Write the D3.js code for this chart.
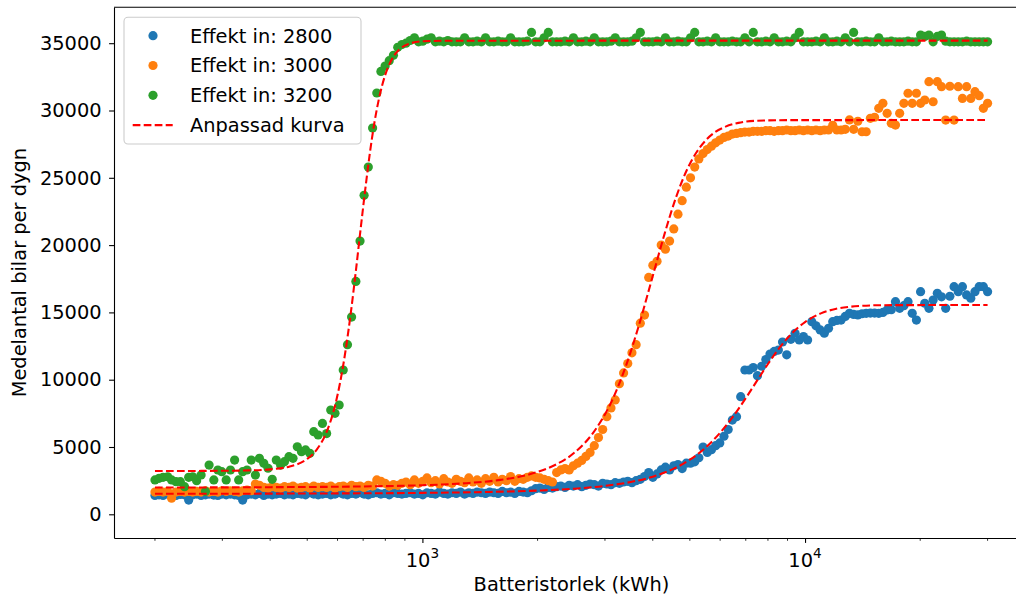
<!DOCTYPE html>
<html>
<head>
<meta charset="utf-8">
<script src="https://cdn.jsdelivr.net/npm/d3@7"></script>
<style>
  body { margin: 0; background: #fff; }
  text { font-family: "DejaVu Sans", sans-serif; fill: #000; }
</style>
</head>
<body>
<script>
// ---battery sizes (kWh), same grid for all three series---
var batteryKWh = [
200,205,210,216,221,227,233,239,245,251,
257,264,271,277,285,292,299,307,315,323,
331,339,348,357,366,375,385,395,405,415,
426,436,448,459,471,483,495,508,520,534,
548,562,576,591,606,621,637,653,670,687,
704,722,741,760,779,799,819,840,862,884,
906,929,953,977,1002,1028,1054,1081,1108,1137,
1165,1195,1226,1257,1289,1322,1356,1390,1426,1462,
1499,1537,1577,1617,1658,1700,1744,1788,1834,1881,
1928,1977,2028,2080,2133,2187,2243,2300,2359,2419,
2481,2544,2609,2675,2743,2813,2885,2959,3034,3111,
3191,3272,3356,3441,3529,3619,3711,3806,3903,4002,
4104,4209,4316,4426,4539,4655,4774,4895,5020,5148,
5279,5414,5552,5693,5839,5987,6140,6297,6457,6622,
6790,6963,7141,7323,7510,7701,7898,8099,8306,8518,
8733,8956,9184,9418,9658,9905,10157,10416,10682,10954,
11232,11519,11813,12114,12423,12740,13065,13398,13740,14090,
14449,14818,15195,15583,15980,16388,16806,17234,17674,18124,
18586,19060,19546,20045,20556,21080,21617,22169,22734,23314,
23908,24518,25143,25784,26442,27116,27807,28517,29244,30000
]

// ---Effekt in: 2800---
var cars2800 = [
1400,1450,1400,1500,1450,1400,1480,1450,1060,1450,
1500,1400,1450,1500,1430,1400,1500,1450,1500,1450,
1400,1060,1450,1500,1450,1550,1400,1500,1450,1500,
1550,1450,1500,1450,1550,1500,1450,1600,1500,1450,
1500,1550,1450,1500,1600,1500,1450,1550,1500,1600,
1500,1450,1550,1600,1500,1550,1450,1600,1550,1500,
1550,1600,1500,1550,1450,1600,1550,1500,1650,1550,
1500,1600,1550,1650,1500,1600,1550,1650,1600,1550,
1650,1600,1550,1700,1600,1650,1550,1700,1650,1600,
1750,1900,1950,1850,2000,1950,2050,2100,2000,2150,
2100,2200,2050,2150,2250,2200,2100,2300,2250,2200,
2350,2300,2400,2450,2350,2500,2600,2800,3100,2750,
3000,3300,3500,3300,3600,3700,3400,3800,3800,3900,
4200,5000,4600,4800,5100,5300,5800,6300,7000,7250,
8740,10720,10720,10900,10300,11000,11500,11900,12100,12200,
12800,11850,13000,13450,12950,13200,12950,14310,14000,13700,
13450,13820,14310,14400,14430,14700,14930,14850,14810,14900,
14930,14950,14950,14930,15000,15180,15200,15800,15300,15500,
15800,14930,14430,16540,15680,15300,15920,16420,16160,15300,
16200,16910,16540,16910,16300,16050,16540,16910,16910,16540
]

// ---Effekt in: 3000---
var cars3000 = [
1650,1700,1650,1700,1200,1650,1700,1650,1700,1650,
1700,1650,1750,1650,1700,1650,1750,1700,1750,1700,
1650,1750,1800,1750,2250,2150,2000,1950,2050,2000,
1950,2050,2000,2100,1950,2000,2050,1950,2100,2000,
2050,2000,2100,1950,2050,2100,2000,2150,2050,2100,
2000,2150,2100,2550,2450,2300,2100,2200,2150,2300,
2400,2200,2550,2300,2450,2700,2350,2500,2250,2650,
2400,2300,2600,2450,2350,2700,2400,2550,2300,2650,
2450,2750,2400,2600,2500,2800,2450,2650,2600,2750,
2850,2750,2700,2600,2500,2400,3100,3300,3400,3300,
3600,3800,4000,4300,4600,5100,5700,6300,7250,7900,
8500,9700,10500,11200,12000,12600,14200,14800,17600,18500,
18800,20000,19700,20300,21200,22300,23300,24300,25000,25800,
26400,26800,27100,27350,27600,27800,28000,28100,28250,28300,
28350,28400,28400,28450,28450,28450,28500,28500,28450,28500,
28500,28550,28500,28500,28550,28500,28550,28500,28550,28500,
28550,28550,28900,28550,28550,28600,29300,28600,29200,28420,
28420,29420,29500,30160,30530,29790,29050,28920,29790,30530,
31280,30530,31280,30530,30780,32140,30650,32140,31770,29290,
31800,29290,31770,30900,31770,30900,31400,31100,30160,30530
]

// ---Effekt in: 3200---
var cars3200 = [
2550,2670,2750,2790,2550,2420,2420,2050,2750,2790,
2500,2920,1700,3660,2550,3290,3170,2550,3290,4030,
2550,3170,3290,4030,2920,4160,3790,3420,2600,4030,
3660,3910,4280,4160,5020,4650,4780,4530,6140,5890,
6750,6000,7750,7500,8120,10720,12600,14650,17300,20300,
23700,25800,28700,31300,32900,33300,33700,34100,34700,34900,
35000,35200,35400,35100,35150,35300,35400,35100,35150,35100,
35200,35100,35100,35100,35400,35100,35100,35150,35100,35400,
35100,35100,35150,35100,35100,35400,35100,35100,35100,35150,
35800,35100,35100,35400,35800,35100,35100,35100,35150,35100,
35400,35100,35100,35150,35100,35400,35100,35100,35100,35150,
35400,35100,35100,35100,35150,35400,35800,35100,35100,35100,
35150,35100,35400,35100,35100,35150,35100,35100,35400,35800,
35100,35100,35150,35100,35400,35100,35100,35100,35150,35100,
35100,35400,35100,35800,35100,35100,35150,35100,35400,35100,
35100,35150,35100,35400,35800,35100,35100,35100,35150,35100,
35400,35100,35100,35150,35100,35400,35100,35800,35100,35100,
35150,35100,35100,35400,35100,35100,35150,35100,35100,35100,
35150,35100,35100,35600,35500,35600,35100,35500,35600,35150,
35100,35100,35100,35100,35150,35100,35100,35100,35100,35100
]

// ---fitted curves---
var fitKWh2800 = [200,500,1000,1500,2000,2500,3000,3500,4000,4500,5000,5500,6000,6500,7000,7500,8000,8500,9000,9500,10000,11000,12000,13000,14000,16000,30000]
var fit2800 = [1523,1544,1592,1662,1762,1904,2109,2398,2797,3341,4056,4963,6060,7307,8629,9948,11169,12229,13095,13772,14280,14929,15253,15409,15484,15536,15550]
var fitKWh3000 = [200,400,700,1000,1300,1600,1900,2200,2500,2800,3100,3400,3700,4000,4300,4600,4900,5200,5500,5800,6200,6700,7500,9000,30000]
var fit3000 = [1990,2015,2070,2160,2313,2559,2962,3605,4595,6090,8200,10990,14270,17710,20890,23540,25520,26880,27780,28360,28800,29080,29240,29285,29290]
var fitKWh3200 = [200,300,350,400,450,500,530,560,590,610,630,650,670,690,710,730,750,770,800,830,870,920,1000,1200,30000]
var fit3200 = [3215,3232,3261,3340,3553,4117,4820,6026,7980,9850,12200,14980,18080,21280,24280,26970,29180,30880,32670,33750,34530,34940,35140,35187,35190]

var seriesNames = ["Effekt in: 2800", "Effekt in: 3000", "Effekt in: 3200"]
var fitName = "Anpassad kurva"
var yTicks = [0,5000,10000,15000,20000,25000,30000,35000]
var xMajor = [1000,10000]
var xMinor = [200,300,400,500,600,700,800,900,2000,3000,4000,5000,6000,7000,8000,9000,20000,30000]

var colors = ["#1f77b4","#ff7f0e","#2ca02c"]
var fontSize = 19.4

var plotL = 114, plotR = 1029, plotT = 7.3, plotB = 538
var x = d3.scaleLog().domain([156.3, 38490]).range([plotL, plotR])
var y = d3.scaleLinear().domain([-1761, 37667]).range([plotB, plotT])

var svg = d3.select("body").append("svg")
    .attr("width", 1016).attr("height", 600)

//---scatter---
var allSeries = [cars2800, cars3000, cars3200]
allSeries.forEach(function(vals, k) {
    svg.append("g").selectAll("circle")
        .data(vals)
        .join("circle")
        .attr("cx", function(d, i) { return x(batteryKWh[i]) })
        .attr("cy", function(d) { return y(d) })
        .attr("r", 4.6)
        .attr("fill", colors[k])
})

//---fit lines---
var line = d3.line()
    .x(function(d) { return x(d[0]) })
    .y(function(d) { return y(d[1]) })
    .curve(d3.curveMonotoneX)
var fits = [[fitKWh2800, fit2800], [fitKWh3000, fit3000], [fitKWh3200, fit3200]]
fits.forEach(function(f) {
    svg.append("path")
        .datum(d3.zip(f[0], f[1]))
        .attr("d", line)
        .attr("fill", "none")
        .attr("stroke", "red")
        .attr("stroke-width", 2.08)
        .attr("stroke-dasharray", "7.7,3.3")
})

//---axes---
var yAxis = svg.append("g")
    .attr("transform", "translate(" + plotL + ",0)")
    .call(d3.axisLeft(y).tickValues(yTicks).tickSize(4.9).tickSizeOuter(0).tickPadding(7.5).tickFormat(d3.format("d")))
yAxis.selectAll("text").style("font-size", fontSize + "px").style("font-family", "DejaVu Sans")
yAxis.selectAll("line").attr("stroke-width", 1.1)
yAxis.select(".domain").attr("stroke-width", 1.1)

var xAxis = svg.append("g")
    .attr("transform", "translate(0," + plotB + ")")
    .call(d3.axisBottom(x).tickValues(xMajor).tickSize(4.9).tickSizeOuter(0).tickFormat(""))
xAxis.selectAll("line").attr("stroke-width", 1.1)
xAxis.select(".domain").attr("stroke-width", 1.1)
svg.append("g").selectAll("line")
    .data(xMinor)
    .join("line")
    .attr("x1", function(d) { return x(d) }).attr("x2", function(d) { return x(d) })
    .attr("y1", plotB).attr("y2", plotB + 2.8)
    .attr("stroke", "#000").attr("stroke-width", 0.8)

var xLab = svg.append("g").selectAll("text")
    .data(xMajor)
    .join("text")
    .attr("x", function(d) { return x(d) })
    .attr("y", 567)
    .attr("text-anchor", "middle")
    .style("font-size", fontSize + "px")
xLab.append("tspan").text("10")
xLab.append("tspan")
    .attr("dy", -9)
    .style("font-size", "13.6px")
    .text(function(d) { return Math.round(Math.log10(d)) })

//---top spine (right one is outside the picture)---
svg.append("line")
    .attr("x1", plotL).attr("x2", plotR).attr("y1", plotT).attr("y2", plotT)
    .attr("stroke", "#000").attr("stroke-width", 1.1)

svg.append("text")
    .attr("x", (plotL + plotR) / 2).attr("y", 591)
    .attr("text-anchor", "middle")
    .style("font-size", fontSize + "px")
    .text("Batteristorlek (kWh)")
svg.append("text")
    .attr("transform", "translate(26," + ((plotT + plotB) / 2) + ") rotate(-90)")
    .attr("text-anchor", "middle")
    .style("font-size", fontSize + "px")
    .text("Medelantal bilar per dygn")

//---legend---
var lg = svg.append("g")
lg.append("rect")
    .attr("x", 124).attr("y", 17.3).attr("width", 237).attr("height", 126.7)
    .attr("rx", 4).attr("fill", "#fff").attr("fill-opacity", 0.8)
    .attr("stroke", "#cccccc").attr("stroke-width", 1.1)
var rowY = [35.7, 65.5, 95.3, 125.1]
seriesNames.forEach(function(name, k) {
    lg.append("circle").attr("cx", 153).attr("cy", rowY[k]).attr("r", 4.6).attr("fill", colors[k])
    lg.append("text").attr("x", 190).attr("y", rowY[k]).attr("dy", "0.36em")
        .style("font-size", fontSize + "px").text(name)
})
lg.append("line")
    .attr("x1", 132.7).attr("x2", 172.7).attr("y1", rowY[3]).attr("y2", rowY[3])
    .attr("stroke", "red").attr("stroke-width", 2.08).attr("stroke-dasharray", "7.7,3.3")
lg.append("text").attr("x", 190).attr("y", rowY[3]).attr("dy", "0.36em")
    .style("font-size", fontSize + "px").text(fitName)
</script>
</body>
</html>
